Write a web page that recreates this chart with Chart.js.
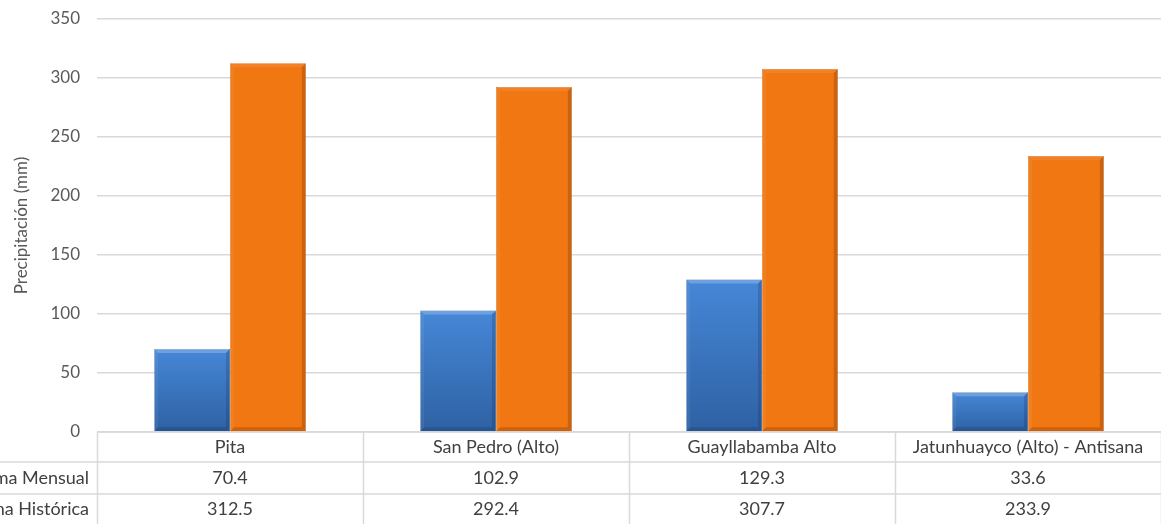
<!DOCTYPE html>
<html>
<head>
<meta charset="utf-8">
<script src="https://cdn.jsdelivr.net/npm/chart.js@4"></script>
<style>
  html, body { margin: 0; padding: 0; background: #fff; overflow: hidden; }
  #wrap { width: 1161px; height: 524px; position: relative; }
</style>
</head>
<body>
<div id="wrap"><canvas id="chart" width="1161" height="524"></canvas></div>
<script>
const categories = ['Pita', 'San Pedro (Alto)', 'Guayllabamba Alto', 'Jatunhuayco (Alto) - Antisana'];
const seriesNames = ['Suma Mensual', 'Suma Histórica'];
const mensual = [70.4, 102.9, 129.3, 33.6];
const historica = [312.5, 292.4, 307.7, 233.9];
const yMax = 350;
const yStep = 50;

const FONT = 'Lato, "Open Sans", sans-serif';
const gridColor = '#d9d9d9';

// vertical gradient, from the top of each bar down to its base
function barFill(top, bottom) {
    return (ctx) => {
        const chart = ctx.chart;
        const yScale = chart.scales.y;
        if (!chart.chartArea || !yScale || ctx.type !== 'data') return top;
        const yTop = yScale.getPixelForValue(ctx.raw);
        const yBase = yScale.getPixelForValue(0);
        const g = chart.ctx.createLinearGradient(0, yTop, 0, yBase);
        g.addColorStop(0, top);
        g.addColorStop(1, bottom);
        return g;
    };
}

// bevel look like the office chart
const bevelPlugin = {
    id: 'bevel',
    afterDatasetsDraw(chart) {
        const ctx = chart.ctx;
        const shades = [
            { light: 'rgba(255,255,255,0.22)', dark: 'rgba(20,40,80,0.22)' },
            { light: 'rgba(255,230,200,0.10)', dark: 'rgba(110,45,0,0.28)' }
        ];
        chart.data.datasets.forEach((ds, i) => {
            const meta = chart.getDatasetMeta(i);
            meta.data.forEach(bar => {
                const l = bar.x - bar.width / 2, r = bar.x + bar.width / 2;
                const t = bar.y, b = bar.base;
                const e = 4;
                ctx.save();
                // top
                ctx.fillStyle = shades[i].light;
                ctx.beginPath();
                ctx.moveTo(l, t); ctx.lineTo(r, t); ctx.lineTo(r - e, t + e); ctx.lineTo(l + e, t + e);
                ctx.closePath(); ctx.fill();
                // left
                ctx.fillStyle = 'rgba(255,255,255,0.06)';
                ctx.beginPath();
                ctx.moveTo(l, t); ctx.lineTo(l + e, t + e); ctx.lineTo(l + e, b - e); ctx.lineTo(l, b);
                ctx.closePath(); ctx.fill();
                // right
                ctx.fillStyle = shades[i].dark;
                ctx.beginPath();
                ctx.moveTo(r, t); ctx.lineTo(r, b); ctx.lineTo(r - e, b - e); ctx.lineTo(r - e, t + e);
                ctx.closePath(); ctx.fill();
                // bottom
                ctx.beginPath();
                ctx.moveTo(l, b); ctx.lineTo(r, b); ctx.lineTo(r - e, b - e); ctx.lineTo(l + e, b - e);
                ctx.closePath(); ctx.fill();
                ctx.restore();
            });
        });
    }
};

// data table under the plot
const tablePlugin = {
    id: 'dataTable',
    afterDraw(chart) {
        const ctx = chart.ctx;
        const area = chart.chartArea;
        const xScale = chart.scales.x;
        const colW = area.width / categories.length;
        const rows = [30, 32, 31];
        const y0 = area.bottom;
        const y1 = y0 + rows[0];
        const y2 = y1 + rows[1];
        const y3 = y2 + rows[2];

        ctx.save();
        ctx.strokeStyle = gridColor;
        ctx.lineWidth = 1.5;
        ctx.beginPath();
        // horizontal lines
        ctx.moveTo(area.left, y0); ctx.lineTo(area.right, y0);
        ctx.moveTo(0, y1); ctx.lineTo(area.right, y1);
        ctx.moveTo(0, y2); ctx.lineTo(area.right, y2);
        // vertical lines
        for (let i = 0; i <= categories.length; i++) {
            const x = Math.round(area.left + colW * i) + 0.5;
            ctx.moveTo(x, y0); ctx.lineTo(x, y3);
        }
        ctx.stroke();

        ctx.fillStyle = '#404040';
        ctx.font = '18px ' + FONT;
        ctx.textBaseline = 'middle';
        ctx.textAlign = 'center';
        categories.forEach((c, i) => {
            const cx = xScale.getPixelForValue(i);
            ctx.fillText(c, cx, (y0 + y1) / 2);
            ctx.fillText(mensual[i].toFixed(1), cx, (y1 + y2) / 2);
            ctx.fillText(historica[i].toFixed(1), cx, (y2 + y3) / 2);
        });
        ctx.textAlign = 'right';
        ctx.fillText(seriesNames[0], area.left - 8, (y1 + y2) / 2);
        ctx.fillText(seriesNames[1], area.left - 8, (y2 + y3) / 2);
        ctx.restore();
    }
};

new Chart(document.getElementById('chart').getContext('2d'), {
    type: 'bar',
    data: {
        labels: categories,
        datasets: [{
            label: seriesNames[0],
            data: mensual,
            backgroundColor: barFill('#4687d7', '#2e61a3'),
            borderColor: '#2b5a96',
            borderWidth: 0.5,
            categoryPercentage: 0.57,
            barPercentage: 1
        }, {
            label: seriesNames[1],
            data: historica,
            backgroundColor: '#f07712',
            borderColor: '#b85808',
            borderWidth: 0.5,
            categoryPercentage: 0.57,
            barPercentage: 1
        }]
    },
    options: {
        responsive: false,
        animation: false,
        layout: { padding: { top: 19, bottom: 92, left: 0, right: 0 } },
        plugins: {
            legend: { display: false },
            tooltip: { enabled: false }
        },
        scales: {
            x: { display: false },
            y: {
                min: 0,
                max: yMax,
                ticks: {
                    stepSize: yStep,
                    color: '#595959',
                    font: { family: FONT, size: 17 },
                    padding: 17
                },
                grid: { color: gridColor, lineWidth: 1.5, drawTicks: false },
                border: { display: false },
                title: {
                    display: true,
                    text: 'Precipitación (mm)',
                    color: '#595959',
                    font: { family: FONT, size: 17 },
                    padding: { top: 11, bottom: 0 }
                },
                afterFit(scale) {
                    scale.width = 97;
                    scale.paddingTop = 0;
                    scale.paddingBottom = 0;
                }
            }
        }
    },
    plugins: [bevelPlugin, tablePlugin]
});
</script>
</body>
</html>
